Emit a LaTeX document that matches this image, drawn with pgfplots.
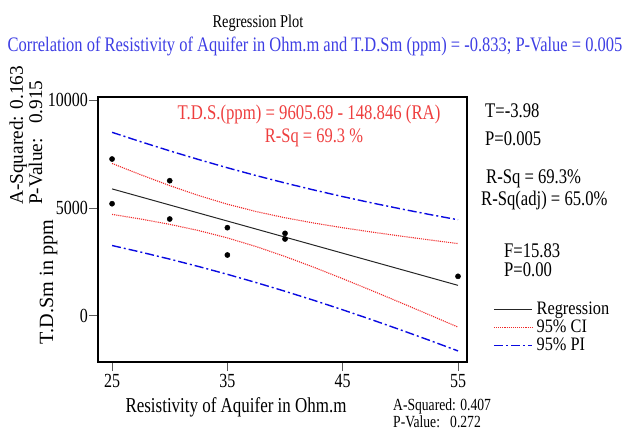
\documentclass[border=0pt]{standalone}
\usepackage{pgfplots}
\pgfplotsset{compat=1.18}
\usepackage{fontspec}
\setmainfont[FakeStretch=0.8]{Liberation Serif}
\newfontfamily\rotfont{Liberation Serif}
\newfontfamily\legfont[FakeStretch=0.86]{Liberation Serif}
\definecolor{txtred}{RGB}{238,62,62}
\definecolor{txtblue}{RGB}{62,62,228}
\definecolor{cired}{RGB}{240,40,40}
\definecolor{piblue}{RGB}{10,10,225}
\newcommand\fs[1]{\fontsize{#1}{#1}\selectfont}
\begin{document}
\begin{tikzpicture}[x=1pt,y=1pt]
\useasboundingbox (0,0) rectangle (627,432);
\begin{axis}[at={(98pt,70pt)}, anchor=south west,
  width=369pt, height=265pt, scale only axis,
  xmin=23.78, xmax=55.78, ymin=-2130, ymax=10140,
  xtick={25,35,45,55}, xticklabels={\fs{20}25,\fs{20}35,\fs{20}45,\fs{20}55},
  ytick={0,5000,10000}, yticklabels={\fs{20}0,\fs{20}5000,\fs{20}10000},
  scaled y ticks=false, scaled x ticks=false,
  tick align=outside, major tick length=9pt,
  tick style={gray!70!black,line width=1pt},
  xtick pos=bottom, ytick pos=left,
  axis line style={line width=1.5pt},
  xticklabel style={font=\fs{20}},
  yticklabel style={font=\fs{20}, inner sep=1pt},
  legend style={at={(rel axis cs:1.0705,0.225)}, anchor=north west, draw=none, fill=none,
    font=\legfont\fs{19}, inner sep=0pt, row sep=4pt, column sep=4pt, cells={anchor=west},
    nodes={inner sep=0pt, text height=12pt, text depth=2pt}},
  legend cell align=left,
  legend image code/.code={\draw[#1] (0pt,0pt) -- (38pt,0pt);},
]
\addplot[black!85, line width=1pt] coordinates {(25,5884.54) (55,1419.16)};
\addlegendentry{Regression}
\addplot[cired, densely dotted, line width=1.1pt] coordinates {
(25,7064.0) (27.5,6536.5) (30,6037.1) (32.5,5579.1) (35,5176.2) (37.5,4834.9) (40,4548.7)
(42.5,4303.8) (45,4087.1) (47.5,3888.7) (50,3702.6) (52.5,3524.8) (55,3352.7)};
\addlegendentry{95\% CI}
\addplot[piblue, dash pattern=on 9pt off 3pt on 2pt off 3pt, line width=1.4pt] coordinates {
(25,8505.3) (27.5,8067.0) (30,7646.6) (32.5,7245.1) (35,6863.1) (37.5,6500.9) (40,6158.2)
(42.5,5834.3) (45,5528.4) (47.5,5239.0) (50,4964.6) (52.5,4703.8) (55,4455.0)};
\addlegendentry{95\% PI}
\addplot[cired, densely dotted, line width=1.1pt, forget plot] coordinates {
(25,4705.0) (27.5,4488.3) (30,4243.5) (32.5,3957.3) (35,3616.0) (37.5,3213.1) (40,2755.1)
(42.5,2255.6) (45,1728.1) (47.5,1182.3) (50,624.2) (52.5,57.8) (55,-514.3)};
\addplot[piblue, dash pattern=on 9pt off 3pt on 2pt off 3pt, line width=1.4pt, forget plot] coordinates {
(25,3263.7) (27.5,2957.8) (30,2634.0) (32.5,2291.3) (35,1929.1) (37.5,1547.1) (40,1145.6)
(42.5,725.1) (45,286.8) (47.5,-168.0) (50,-637.8) (52.5,-1121.2) (55,-1616.6)};
\addplot[only marks, mark=*, mark size=2.6pt, black, forget plot] coordinates {
(25,7268) (25,5199) (30,6264) (30,4490) (35,4090) (35,2824) (40,3827) (40,3565) (55,1836)};
\end{axis}
% titles
\node[anchor=base, font=\fs{18}] at (258,404) {Regression Plot};
\node[anchor=base, font=\fs{20.6}, text=txtblue] at (315,380) {Correlation of Resistivity of Aquifer in Ohm.m and T.D.Sm (ppm) = -0.833; P-Value = 0.005};
% in-plot red text
\node[anchor=base, font=\fs{20.9}, text=txtred] at (309,312) {T.D.S.(ppm) = 9605.69 - 148.846 (RA)};
\node[anchor=base, font=\fs{20.6}, text=txtred] at (314,289) {R-Sq = 69.3 \%};
% axis labels
\node[anchor=base, font=\fs{21.2}] at (236,20) {Resistivity of Aquifer in Ohm.m};
\node[anchor=base, rotate=90, font=\rotfont\fs{20.2}] at (53,150) {T.D.Sm in ppm};
% left rotated stats
\node[anchor=base west, rotate=90, font=\rotfont\fs{19.3}, inner sep=0pt] at (23,227) {A-Squared: 0.163};
\node[anchor=base west, rotate=90, font=\rotfont\fs{19.3}, inner sep=0pt] at (42,227) {P-Value:\ \ \ 0.915};
% right stats
\node[anchor=base west, font=\fs{20.8}, inner sep=0pt] at (485,314) {T=-3.98};
\node[anchor=base west, font=\fs{20.8}, inner sep=0pt] at (485,287) {P=0.005};
\node[anchor=base west, font=\fs{20.8}, inner sep=0pt] at (486,248) {R-Sq = 69.3\%};
\node[anchor=base west, font=\fs{20.8}, inner sep=0pt] at (481,226) {R-Sq(adj) = 65.0\%};
\node[anchor=base west, font=\fs{20.8}, inner sep=0pt] at (504,175) {F=15.83};
\node[anchor=base west, font=\fs{20.8}, inner sep=0pt] at (504,156) {P=0.00};
% bottom stats
\node[anchor=base west, font=\fs{17}, inner sep=0pt] at (393,22) {A-Squared: 0.407};
\node[anchor=base west, font=\fs{17}, inner sep=0pt] at (393,5) {P-Value:\ \ \ 0.272};
\end{tikzpicture}
\end{document}
